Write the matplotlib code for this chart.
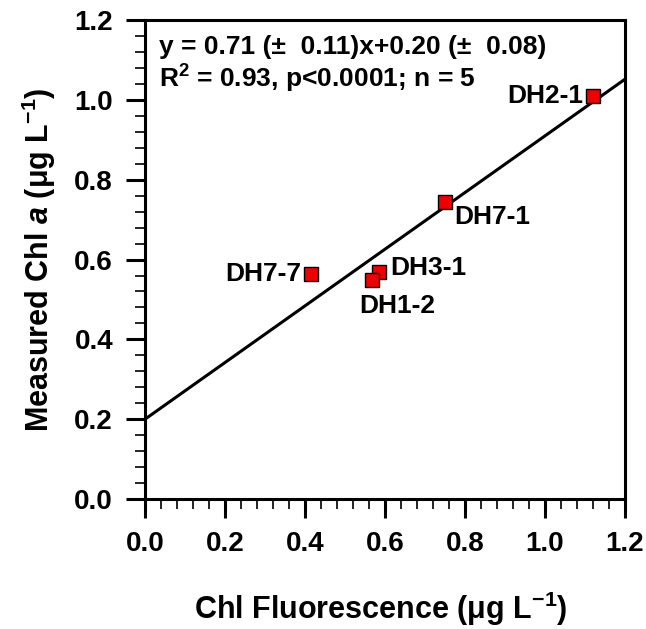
import matplotlib.pyplot as plt
from matplotlib.ticker import MultipleLocator, FormatStrFormatter

plt.rcParams['font.family'] = ['Liberation Sans', 'DejaVu Sans']
plt.rcParams['font.weight'] = 'bold'
plt.rcParams['mathtext.fontset'] = 'custom'
plt.rcParams['mathtext.rm'] = 'Liberation Sans:bold'
plt.rcParams['mathtext.bf'] = 'Liberation Sans:bold'
plt.rcParams['mathtext.it'] = 'Liberation Sans:bold:italic'
plt.rcParams['mathtext.default'] = 'bf'

# sample points
sites = ['DH2-1', 'DH7-1', 'DH7-7', 'DH3-1', 'DH1-2']
fluor = [1.12, 0.75, 0.415, 0.585, 0.567]
chl = [1.01, 0.744, 0.564, 0.569, 0.549]

# regression line
slope = 0.71
intercept = 0.20
line_x = [0.0, 1.2]

fig = plt.figure(figsize=(6.46, 6.29), dpi=100)
ax = fig.add_axes([0.2245, 0.2067, 0.743, 0.7613])

ax.plot(line_x, [slope * v + intercept for v in line_x], color='black', lw=2.2, zorder=2)
ax.plot(fluor, chl, ls='none', marker='s', ms=10, mfc='#ee0000', mec='black', mew=1.0, zorder=3)

# label placement offsets (points)
offsets = {'DH2-1': (-7, 0, 'right', 'center'),
           'DH7-1': (7, -11, 'left', 'center'),
           'DH7-7': (-7, 0, 'right', 'center'),
           'DH3-1': (8, 3, 'left', 'center'),
           'DH1-2': (-9, -19, 'left', 'center')}
for s, x, y in zip(sites, fluor, chl):
    dx, dy, ha, va = offsets[s]
    ax.annotate(s, (x, y), xytext=(dx, dy), textcoords='offset points',
                ha=ha, va=va, fontsize=19, fontweight='bold')

ax.text(0.03, 0.944, 'y = 0.71 (\u00b1  0.11)x+0.20 (\u00b1  0.08)', transform=ax.transAxes,
        fontsize=19, fontweight='bold', va='center')
ax.text(0.03, 0.877, 'R$^{2}$ = 0.93, p<0.0001; n = 5', transform=ax.transAxes,
        fontsize=19, fontweight='bold', va='center')

ax.set_xlim(0, 1.2)
ax.set_ylim(0, 1.2)
ax.xaxis.set_major_locator(MultipleLocator(0.2))
ax.yaxis.set_major_locator(MultipleLocator(0.2))
ax.xaxis.set_minor_locator(MultipleLocator(0.04))
ax.yaxis.set_minor_locator(MultipleLocator(0.04))
ax.xaxis.set_major_formatter(FormatStrFormatter('%.1f'))
ax.yaxis.set_major_formatter(FormatStrFormatter('%.1f'))
ax.tick_params(which='major', direction='out', length=14, width=2.2, labelsize=20, pad=9)
ax.tick_params(which='minor', direction='out', length=7, width=1.2)
for sp in ax.spines.values():
    sp.set_linewidth(2.2)

ax.set_xlabel('Chl Fluorescence (\u03bcg L$^{-1}$)', fontsize=22, fontweight='bold', labelpad=20)
ax.set_ylabel('Measured Chl $\\mathit{a}$ (\u03bcg L$^{-1}$)', fontsize=22, fontweight='bold', labelpad=12)
ax.xaxis.set_label_coords(0.49, -0.19)

fig.savefig('out.png', dpi=100)
